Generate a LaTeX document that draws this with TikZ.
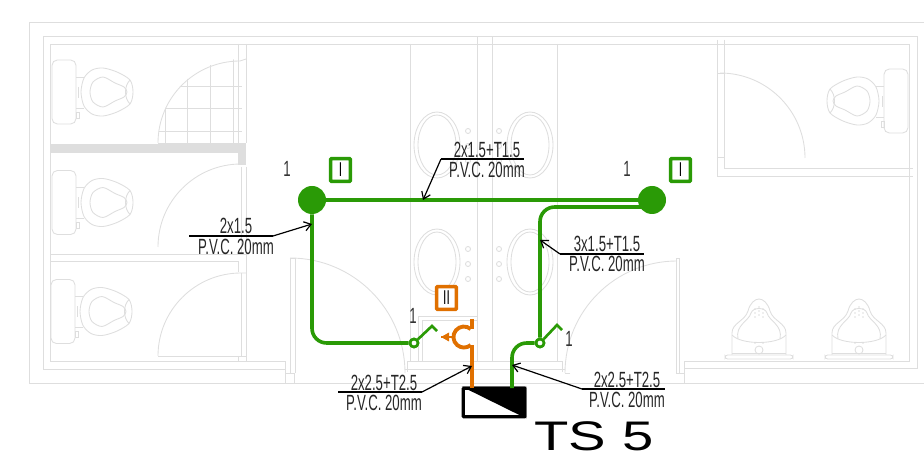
\documentclass[tikz,border=0pt]{standalone}
\usepackage{fontspec}
\setmainfont{Liberation Sans}
\newfontfamily\narrowfont[FakeStretch=0.6]{Liberation Sans}
\newfontfamily\panelfont[FakeStretch=1.36]{Liberation Sans}
\usetikzlibrary{positioning, arrows.meta, calc}
\definecolor{wiregreen}{HTML}{2A9A06}
\definecolor{wireorange}{HTML}{E07000}
\definecolor{planline}{HTML}{DEDEDE}
\tikzset{
  toilet/.pic={
    \draw[plan, rounded corners=4pt] (0,-32) rectangle (24,32);
    \draw[plan] (24,-15) -- (32,-15) (24,16) -- (32,16) (26,-5) -- (26,6);
    \draw[plan] (24,20) rectangle (27,26);
    \draw[plan] plot[smooth cycle] coordinates {(29,0) (32,-14) (40,-22) (51,-24) (65,-20) (78,-12) (81,0) (78,12) (65,20) (51,24) (40,22) (32,14)};
    \draw[plan] plot[smooth cycle] coordinates {(38,0) (41,-10) (51,-15) (63,-9) (72,-5) (75,0) (72,5) (63,9) (51,15) (41,10)};
    \draw[plan] (78,-12) .. controls (72,-6) and (72,6) .. (78,12);
  },
  urinal/.pic={
    \draw[plan, rounded corners=2pt] (-34,-4) rectangle (34,0);
    \draw[plan] (-27,-4) -- (-27,-26) .. controls (-27,-36) and (-14,-38) .. (-11,-48)
      .. controls (-9,-56) and (-4,-60) .. (0,-60) .. controls (4,-60) and (9,-56) .. (11,-48)
      .. controls (14,-38) and (27,-36) .. (27,-26) -- (27,-4);
    \draw[plan] (-21,-20) .. controls (-24,-34) and (-10,-38) .. (-8,-46)
      .. controls (-6,-52) and (6,-52) .. (8,-46) .. controls (10,-38) and (24,-34) .. (21,-20);
    \draw[plan] (-27,-24) .. controls (-18,-14) and (18,-14) .. (27,-24);
    \draw[plan] (-27,-6) -- (27,-6);
    \draw[plan] (0,-9) circle[radius=4];
    \foreach \dx/\dy in {-4/-50, 0/-52, 4/-50, -4/-46, 0/-48, 4/-46, -4/-42, 0/-44, 4/-42, -4/-16, 4/-16}
      \draw[plan, line width=0.3pt] (\dx,\dy) circle[radius=0.7];
  }
}
\begin{document}
\begin{tikzpicture}[
  x=0.75pt, y=-0.75pt,
  plan/.style={draw=planline, line width=0.65pt},
  partition/.style={fill=planline, draw=none},
  wire/.style={draw=wiregreen, line width=2.7pt, rounded corners=11pt},
  feed/.style={draw=wireorange, line width=2.9pt},
  lamp/.style={circle, fill=wiregreen, inner sep=0pt, minimum size=21pt},
  switchring/.style={circle, draw=wiregreen, fill=white, line width=2pt, inner sep=0pt, minimum size=6pt},
  phasebox/.style={draw=#1, fill=white, line width=2.6pt, inner sep=0pt, minimum width=14.8pt,
                   minimum height=17pt, rounded corners=0.5pt, font=\narrowfont\fontsize{15}{15}\selectfont},
  panelbox/.style={draw=black, fill=white, line width=2.4pt, rounded corners=0.5pt, inner sep=0pt,
                   minimum width=46pt, minimum height=21.5pt},
  cable/.style={font=\narrowfont\fontsize{16.5}{17}\selectfont, inner sep=0pt, text=black!85},
  count/.style={font=\narrowfont\fontsize{16.5}{17}\selectfont, inner sep=0pt, text=black!80},
  leader/.style={draw=black, line width=0.9pt, -{Straight Barb[length=5pt, width=7pt]}}
]
  \useasboundingbox (0,0) rectangle (924,459);

  % Building outline
  \draw[plan] (924,22) -- (29,22) -- (29,383) -- (924,383);
  \draw[plan] (285,369) -- (43.5,369) -- (43.5,36.5) -- (917,36.5) -- (917,368) -- (684,368);
  \draw[plan] (246,44) -- (50.5,44) -- (50.5,361) -- (285,361) -- (285,383);
  \draw[plan] (246,44) -- (909,44) -- (909,361) -- (684,361) -- (684,383);

  % Left stalls
  \fill[partition] (50,144) rectangle (246,153);
  \fill[partition] (238,153) rectangle (246,165);
  \draw[plan] (238,44) -- (238,143) (246,44) -- (246,143);
  \draw[plan] (158,143) -- (246,143);
  \draw[plan] (158,143) arc[start angle=180, end angle=270, radius=82] -- (246,59);
  \begin{scope}
    \clip (242,143) -- (158,143) arc[start angle=180, end angle=270, radius=84] -- cycle;
    \foreach \gx in {165,187,210,233}
      \draw[plan] (\gx,59) -- (\gx,143);
    \foreach \gy in {86,108,131}
      \draw[plan] (158,\gy) -- (242,\gy);
  \end{scope}
  \draw[plan] (158,247) arc[start angle=180, end angle=270, radius=83] -- (238,164);
  \draw[plan] (241,167) -- (241,254) (246,167) -- (246,361);
  \draw[plan] (50,254) -- (246,254) (50,261) -- (238,261) -- (238,272);
  \draw[plan] (158,356) arc[start angle=180, end angle=270, radius=83] -- (246,273);
  \draw[plan] (241,273) -- (241,356) (158,356) -- (246,356) (238,356) -- (238,361);
  \pic at (52,92) {toilet};
  \pic at (52,202.5) {toilet};
  \pic at (51,311.5) {toilet};

  % Middle rooms
  \foreach \wx/\wy in {410/44, 477/36.5, 492/36.5, 557/44}
    \draw[plan] (\wx,\wy) -- (\wx,361);
  \foreach \ex in {437,530}
    \foreach \ey in {145,262} {
      \draw[plan] (\ex,\ey) ellipse[x radius=23, y radius=33];
      \draw[plan] (\ex,\ey) ellipse[x radius=19, y radius=30];
    }
  \foreach \cx in {468,499}
    \foreach \cy in {131,146,161,249,264,279}
      \draw[plan] (\cx,\cy) circle[radius=2.5];
  \draw[plan] (418,361) -- (418,316) -- (477,316) (422,361) -- (422,320) -- (477,320);
  \draw[plan] (407,372) -- (407,361) -- (562,361) -- (562,372) (405,369) -- (565,369);

  % Doors
  \draw[plan] (285,373) -- (294,373) -- (294,383);
  \draw[plan] (290,373) -- (290,258) -- (295,258) -- (295,373);
  \draw[plan] (290,258) arc[start angle=270, end angle=360, radius=115];
  \draw[plan] (676,373) -- (676,258) -- (679,258) -- (679,373) (570,373) -- (565,373) (676,373) -- (684,373);
  \draw[plan] (677,261) arc[start angle=270, end angle=180, radius=112];

  % Right rooms
  \draw[plan] (717,40) -- (717,176) -- (913,176);
  \draw[plan] (724,40) -- (724,168) -- (913,168);
  \draw[plan] (717,73) -- (724,73) (717,157) -- (724,157);
  \draw[plan] (720,73) arc[start angle=270, end angle=360, radius=85];
  \pic[xscale=-1] at (908,101) {toilet};
  \pic at (759,359) {urinal};
  \pic at (859,359) {urinal};

  % Nodes
  \node[lamp] (lampL) at (312,200) {};
  \node[lamp] (lampR) at (652,200) {};
  \node[switchring] (swL) at (414,343) {};
  \node[switchring] (swR) at (540,343) {};
  \node[panelbox] (panel) at (494,402.5) {};
  \node[phasebox=wiregreen] (tagL) at (340.5,170) {I};
  \node[phasebox=wiregreen] (tagR) at (680.5,170) {I};
  \node[phasebox=wireorange] (tagS) at (446.5,298) {II};
  \node[count] (numL) at (287,169) {1};
  \node[count] (numR) at (627,169) {1};
  \node[count] (numSL) at (413,316) {1};
  \node[count] (numSR) at (569,339) {1};
  \node[font=\panelfont\fontsize{31}{31}\selectfont, inner sep=0pt] (tsname) at (594,436) {TS 5};

  % Panel
  \fill[black] (panel.north west) -- (panel.north east) -- (panel.south east) -- cycle;

  % Green circuits
  \coordinate (lampRb) at (645,207);
  \coordinate (riseR) at (540,207);
  \coordinate (cornerL) at (312,343);
  \coordinate (bendR) at (512,343);
  \coordinate (feedR) at (512,388);
  \coordinate (armLa) at (432,326);
  \coordinate (armLb) at (437,331);
  \coordinate (armRa) at (557,325);
  \coordinate (armRb) at (562,330);
  \draw[wire] (lampL) -- (lampR);
  \draw[wire] (lampRb) -- (riseR) -- (swR);
  \draw[wire] (lampL) -- (cornerL) -- (swL);
  \draw[wire] (swR) -- (bendR) -- (feedR);
  \draw[draw=wiregreen, line width=2pt] (swL) -- (armLa) -- (armLb);
  \draw[draw=wiregreen, line width=2pt] (swR) -- (armRa) -- (armRb);
  \node[switchring] at (swL) {};
  \node[switchring] at (swR) {};

  % Orange socket
  \coordinate (sockTop) at (472,319);
  \coordinate (sockUp) at (472,329);
  \coordinate (sockDn) at (472,345);
  \coordinate (feedS) at (472,388);
  \coordinate (sockTip) at (441,337);
  \coordinate (sockBack) at (454,337);
  \draw[feed] (sockTop) -- (sockUp);
  \draw[feed] (sockDn) -- (feedS);
  \draw[feed] (470.7,329) arc[start angle=-50, end angle=-310, radius=10.5];
  \draw[draw=wireorange, line width=1.6pt] (sockTip) -- (sockBack);
  \fill[wireorange] (sockTip) -- (449,332.5) -- (449,341.5) -- cycle;

  % Cable labels
  \coordinate (ruleAa) at (189,236);
  \coordinate (ruleAb) at (273,236);
  \coordinate (tipA) at (312,224);
  \draw[draw=black, line width=0.9pt] (ruleAa) -- (ruleAb);
  \draw[leader] (ruleAb) -- (tipA);
  \node[cable] (cableAtop) at (236,226) {2x1.5};
  \node[cable] (cableAbot) at (236,247) {P.V.C. 20mm};

  \coordinate (ruleBa) at (441,159);
  \coordinate (ruleBb) at (524,159);
  \coordinate (tipB) at (423,200);
  \draw[draw=black, line width=0.9pt] (ruleBa) -- (ruleBb);
  \draw[leader] (ruleBa) -- (tipB);
  \node[cable] (cableBtop) at (487,150) {2x1.5+T1.5};
  \node[cable] (cableBbot) at (487,170) {P.V.C. 20mm};

  \coordinate (ruleCa) at (560,254);
  \coordinate (ruleCb) at (644,254);
  \coordinate (tipC) at (540,240);
  \draw[draw=black, line width=0.9pt] (ruleCa) -- (ruleCb);
  \draw[leader] (ruleCa) -- (tipC);
  \node[cable] (cableCtop) at (607,244) {3x1.5+T1.5};
  \node[cable] (cableCbot) at (607,264) {P.V.C. 20mm};

  \coordinate (ruleDa) at (338,392);
  \coordinate (ruleDb) at (422,392);
  \coordinate (tipD) at (472,366);
  \draw[draw=black, line width=0.9pt] (ruleDa) -- (ruleDb);
  \draw[leader] (ruleDb) -- (tipD);
  \node[cable] (cableDtop) at (384,383) {2x2.5+T2.5};
  \node[cable] (cableDbot) at (384,403) {P.V.C. 20mm};

  \coordinate (ruleEa) at (582,389);
  \coordinate (ruleEb) at (665,389);
  \coordinate (tipE) at (512,365);
  \draw[draw=black, line width=0.9pt] (ruleEa) -- (ruleEb);
  \draw[leader] (ruleEa) -- (tipE);
  \node[cable] (cableEtop) at (627,380) {2x2.5+T2.5};
  \node[cable] (cableEbot) at (627,400) {P.V.C. 20mm};
\end{tikzpicture}
\end{document}
